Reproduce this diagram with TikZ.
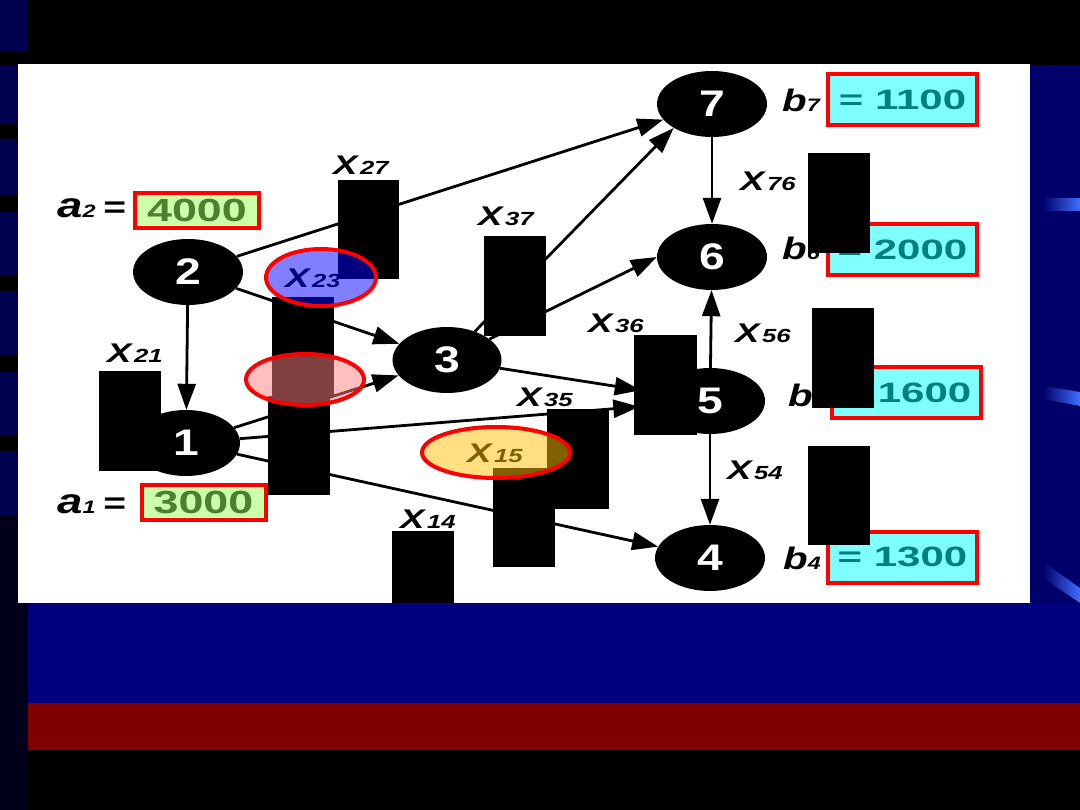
\documentclass[tikz,border=0pt]{standalone}
\usepackage{fontspec}
\setmainfont{Liberation Sans}
\usetikzlibrary{arrows.meta,shapes.geometric}
\definecolor{navyL}{HTML}{000050}
\definecolor{navyD}{HTML}{00001A}
\definecolor{navyR}{HTML}{00006A}
\definecolor{navyB}{HTML}{000080}
\definecolor{maroonB}{HTML}{800000}
\definecolor{streak}{HTML}{3F6FFF}
\definecolor{greenFill}{HTML}{CCFFAA}
\definecolor{greenText}{HTML}{4C7F2E}
\definecolor{cyanFill}{HTML}{80FFFF}
\definecolor{cyanText}{HTML}{007F7F}
\definecolor{goldO}{HTML}{FFC000}
\definecolor{pinkO}{HTML}{FF8080}
\newcommand{\Xsub}[1]{\scalebox{1.35}[1]{\fontsize{27}{27}\selectfont\bfseries\itshape X\kern2pt\fontsize{19}{19}\selectfont #1}}
\newcommand{\NumTxt}[1]{\scalebox{1.25}[1]{\fontsize{37}{37}\selectfont\bfseries #1}}
\newcommand{\GreenTxt}[1]{\scalebox{1.4}[1]{\fontsize{32}{32}\selectfont\bfseries #1}}
\newcommand{\CyanTxt}[1]{\scalebox{1.5}[1]{\fontsize{28}{28}\selectfont\bfseries #1}}
\newcommand{\aLab}[1]{\scalebox{1.3}[1]{\bfseries\itshape\fontsize{35}{35}\selectfont a\fontsize{18}{18}\selectfont #1\kern6pt\upshape\fontsize{30}{30}\selectfont =}}
\newcommand{\bLab}[1]{\scalebox{1.3}[1]{\bfseries\itshape\fontsize{31}{31}\selectfont b\fontsize{18}{18}\selectfont #1}}
\begin{document}
\begin{tikzpicture}[x=1pt,y=-1pt,
  nd/.style={ellipse, fill=black, minimum width=110pt, minimum height=66pt, inner sep=0pt, text=white},
  arr/.style={line width=2.8pt, -{Triangle[length=26pt,width=18pt]}},
  xlab/.style={inner sep=0pt, anchor=base west, text=black},
  gbox/.style={draw=red, line width=4pt, fill=greenFill, text=greenText, minimum width=124pt, minimum height=35pt, inner sep=0pt},
  cbox/.style={draw=red, line width=4pt, fill=cyanFill, text=cyanText, minimum width=149pt, minimum height=51pt, inner sep=0pt},
  censor/.style={fill=black},
  overlay/.style={draw=red, line width=4pt, fill opacity=0.5}
]
\useasboundingbox (0,0) rectangle (1080,810);
% ---------- background ----------
\fill[black] (0,0) rectangle (1080,810);
\fill[navyL] (0,0) rectangle (28,52);
\foreach \a/\b in {65/124,139/196,212/275,291/356,372/435,451/515}
  \fill[navyL] (0,\a) rectangle (18,\b);
\fill[navyD] (0,515) rectangle (28,810);
\fill[navyR] (1030,65) rectangle (1080,603);
\fill[left color=navyR, right color=streak] (1043,199) rectangle (1080,211);
\fill[left color=navyR, right color=streak] (1043,386) -- (1080,392) -- (1080,406) -- (1043,399) -- cycle;
\fill[left color=navyR, right color=streak] (1043,562) -- (1080,588) -- (1080,603) -- (1043,578) -- cycle;
\fill[navyB] (28,603) rectangle (1080,703);
\fill[maroonB] (28,703) rectangle (1080,750);
\fill[white] (18,64) rectangle (1030,603);
% ---------- nodes ----------
\node[nd] (n7) at (712,104) {\NumTxt{7}};
\node[nd] (n6) at (712,257) {\NumTxt{6}};
\node[nd] (n5) at (710,401) {\NumTxt{5}};
\node[nd] (n4) at (710,558) {\NumTxt{4}};
\node[nd, minimum width=109pt] (n3) at (447,360) {\NumTxt{3}};
\node[nd] (n2) at (188,272) {\NumTxt{2}};
\node[nd, minimum width=108pt] (n1) at (186,443) {\NumTxt{1}};
% ---------- arrows ----------
\draw[arr] (n2) -- (n7);
\draw[arr] (n2) -- (n1);
\draw[arr] (n2) -- (n3);
\draw[arr] (n1) -- (n3);
\draw[arr, shorten >=16pt] (n1) -- (n5);
\draw[arr] (n1) -- (n4);
\draw[arr] (n3) -- (n7.212);
\draw[arr] (n3) -- (n6.west);
\draw[arr, shorten >=16pt] (n3) -- (n5);
\draw[arr] (n7) -- (n6);
\draw[arr] (n5) -- (n6);
\draw[arr] (n5) -- (n4);
% ---------- supply / demand labels ----------
\node[xlab] (la2) at (57,218) {\aLab{2}};
\node[xlab] (la1) at (57,513) {\aLab{1}};
\node[gbox] (va2) at (197,210.5) {\GreenTxt{4000}};
\node[gbox] (va1) at (203.5,502.5) {\GreenTxt{3000}};
\node[xlab] (lb7) at (782,112) {\bLab{7}};
\node[xlab] (lb6) at (782,260) {\bLab{6}};
\node[xlab] (lb5) at (788,407) {\bLab{5}};
\node[xlab] (lb4) at (783,569) {\bLab{4}};
\node[cbox] (vb7) at (902.5,99.5) {\CyanTxt{= 1100}};
\node[cbox] (vb6) at (902.5,250) {\CyanTxt{= 2000}};
\node[cbox] (vb5) at (906.5,393) {\CyanTxt{= 1600}};
\node[cbox] (vb4) at (902.5,557) {\CyanTxt{= 1300}};
% ---------- flow labels ----------
\node[xlab] (x27) at (333,175) {\Xsub{27}};
\node[xlab] (x37) at (478,226) {\Xsub{37}};
\node[xlab] (x21) at (107,363) {\Xsub{21}};
\node[xlab] (x36) at (588,333) {\Xsub{36}};
\node[xlab] (x35) at (517,407) {\Xsub{35}};
\node[xlab] (x14) at (400,529) {\Xsub{14}};
\node[xlab] (x15) at (467,463) {\Xsub{15}};
\node[xlab] (x76) at (740,191) {\Xsub{76}};
\node[xlab] (x56) at (735,343) {\Xsub{56}};
\node[xlab] (x54) at (727,479) {\Xsub{54}};
\node[xlab] (x23) at (285,288) {\Xsub{23}};
\node[xlab] (x13) at (276,389) {\Xsub{13}};
% ---------- censoring boxes ----------
\fill[censor] (99,371) rectangle (161,471);
\fill[censor] (338,180) rectangle (399,279);
\fill[censor] (272,297) rectangle (334,397);
\fill[censor] (268,396) rectangle (330,495);
\fill[censor] (484,236) rectangle (546,336);
\fill[censor] (634,335) rectangle (697,435);
\fill[censor] (547,409) rectangle (609,509);
\fill[censor] (493,468) rectangle (555,567);
\fill[censor] (392,531) rectangle (454,603);
\fill[censor] (808,153) rectangle (870,253);
\fill[censor] (812,308) rectangle (874,408);
\fill[censor] (808,446) rectangle (870,545);
% ---------- highlight ellipses ----------
\draw[overlay, fill=blue] (321,277.5) ellipse [x radius=55, y radius=28.5];
\draw[overlay, fill=pinkO] (305,379.5) ellipse [x radius=59, y radius=25.5];
\draw[overlay, fill=goldO] (496,452.5) ellipse [x radius=74, y radius=25.5];
\end{tikzpicture}
\end{document}
